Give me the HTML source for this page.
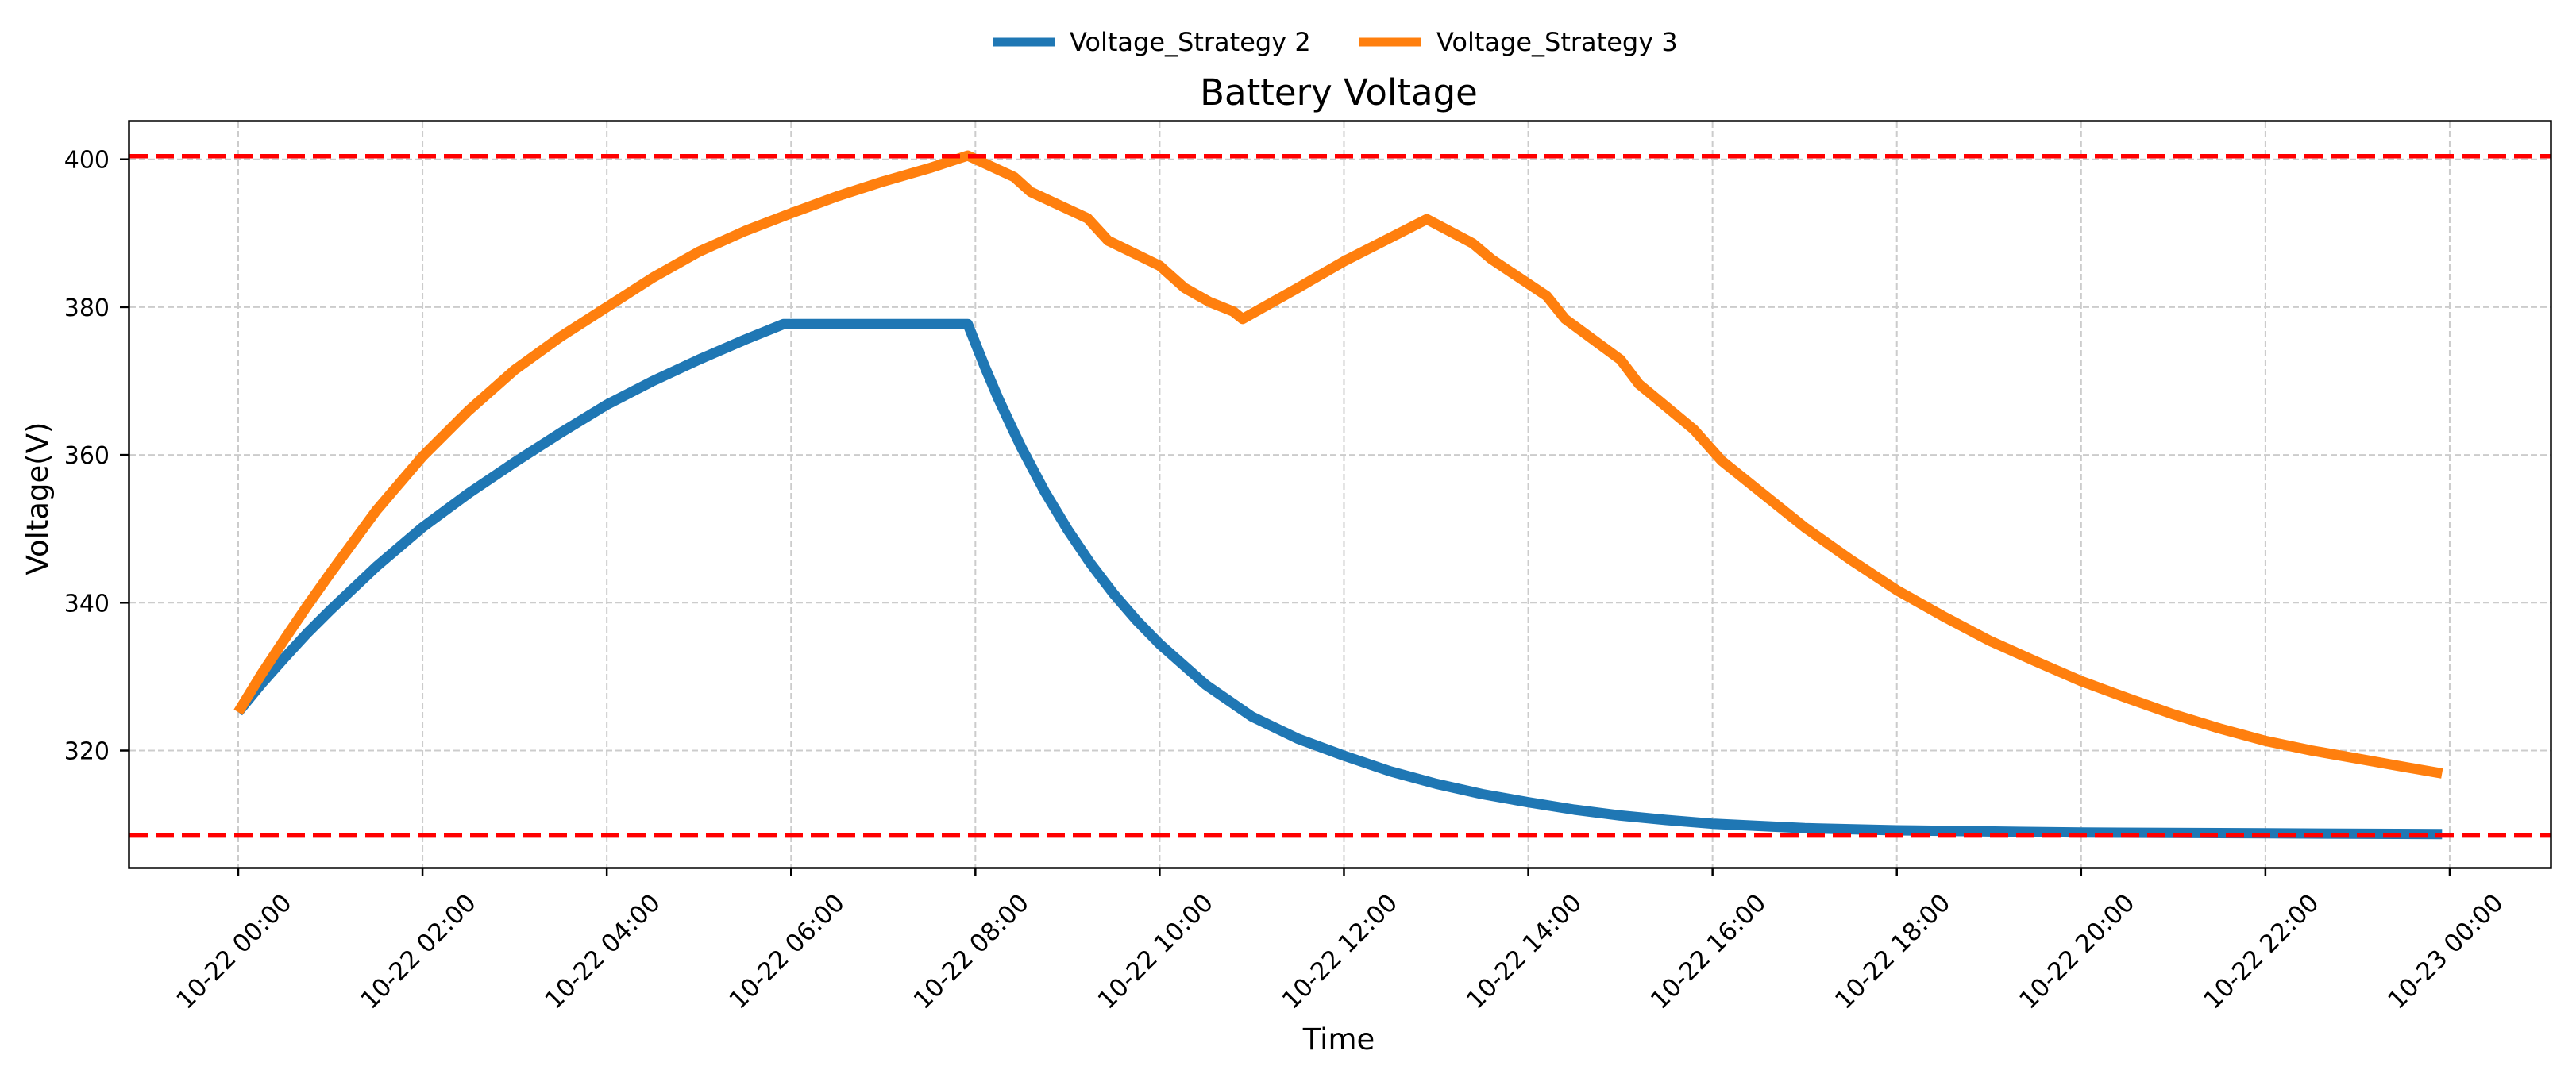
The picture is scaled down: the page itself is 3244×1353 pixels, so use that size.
<!DOCTYPE html>
<html><head><meta charset="utf-8"><style>
html,body{margin:0;padding:0;background:#fff;}
svg{display:block;font-family:"DejaVu Sans","Liberation Sans",sans-serif;}
</style></head><body>
<svg id="chart" width="3244" height="1353" viewBox="0 0 3244 1353" xmlns="http://www.w3.org/2000/svg">
<rect width="3244" height="1353" fill="#fff"/>
<g id="grid"></g>
<g id="series"></g>
<g id="refs"></g>
<rect x="162.5" y="152.5" width="3050" height="941" fill="none" stroke="#000" stroke-width="2.5"/>
<g id="axes"></g>
<text x="1686" y="132" font-size="45" text-anchor="middle" fill="#000">Battery Voltage</text>
<text x="1686" y="1322" font-size="37" text-anchor="middle" fill="#000">Time</text>
<text x="0" y="0" font-size="37" text-anchor="middle" fill="#000" transform="translate(60,628) rotate(-90)">Voltage(V)</text>
<g>
<g>
<line x1="1250" y1="53" x2="1328" y2="53" stroke="#1f77b4" stroke-width="11"/>
<text x="1347" y="64" font-size="32" fill="#000">Voltage_Strategy 2</text></g>
<g>
<line x1="1712" y1="53" x2="1789" y2="53" stroke="#ff7f0e" stroke-width="11"/>
<text x="1809" y="64" font-size="32" fill="#000">Voltage_Strategy 3</text></g>
</g>
</svg>
<script>
const xTickHours = [0,2,4,6,8,10,12,14,16,18,20,22,24];
const xTickLabels = ["10-22 00:00","10-22 02:00","10-22 04:00","10-22 06:00","10-22 08:00","10-22 10:00","10-22 12:00","10-22 14:00","10-22 16:00","10-22 18:00","10-22 20:00","10-22 22:00","10-23 00:00"];
const yTicks = [320,340,360,380,400];
const refLevels = [400.43, 308.5];
const s2Hours = [0,0.25,0.5,0.75,1,1.5,2,2.5,3,3.5,4,4.5,5,5.5,5.917,6.5,7,7.5,7.917,8.1,8.25,8.4,8.5,8.75,9,9.25,9.5,9.75,10,10.5,11,11.5,12,12.5,13,13.5,14,14.5,15,15.5,16,17,18,20,22,23.917];
const s2Values = [325.2,329,332.5,335.9,339,344.9,350.2,354.8,359,363,366.8,370,372.9,375.6,377.7,377.7,377.7,377.7,377.7,372,367.6,363.6,361,355.1,349.9,345.3,341.2,337.6,334.4,328.9,324.6,321.6,319.3,317.2,315.5,314.1,313,312,311.2,310.6,310.1,309.5,309.2,308.9,308.8,308.7];
const s3Hours = [0,0.25,0.5,0.75,1,1.5,2,2.5,3,3.5,4,4.5,5,5.5,6,6.5,7,7.5,7.917,8.42,8.6,9.22,9.44,10,10.27,10.54,10.8,10.9,11.5,12,12.9,13.4,13.6,14.2,14.4,15,15.2,15.8,16.1,16.5,17,17.5,18,18.5,19,19.5,20,20.5,21,21.5,22,22.5,23,23.5,23.917];
const s3Values = [325.2,330.3,335,339.6,344,352.5,359.8,366,371.5,376,380,384,387.5,390.3,392.7,395,397,398.8,400.5,397.6,395.6,392,389,385.6,382.6,380.7,379.4,378.4,382.6,386.2,391.9,388.6,386.5,381.5,378.4,372.9,369.6,363.4,359.2,355.2,350.2,345.8,341.7,338.2,334.9,332.1,329.4,327.1,324.9,323,321.3,320,318.9,317.8,316.9];

const NS = "http://www.w3.org/2000/svg";
function X(h){ return 300 + h*116.04; }
function Y(v){ return 200.7 + (400 - v)*9.31; }
function mk(tag, attrs, parent){ const e=document.createElementNS(NS,tag); for(const k in attrs) e.setAttribute(k,attrs[k]); parent.appendChild(e); return e; }
const grid=document.getElementById('grid'), axes=document.getElementById('axes'), refs=document.getElementById('refs'), series=document.getElementById('series');

xTickHours.forEach((h,i)=>{
  const x=X(h);
  const g=mk('line',{x1:x,y1:153,x2:x,y2:1093,stroke:'#cccccc','stroke-width':2,'stroke-dasharray':'8,4'},grid);
  
  
  const t=mk('line',{x1:x,y1:1094,x2:x,y2:1104,stroke:'#000','stroke-width':2.5},axes);
  
  
  const lb=mk('text',{x:0,y:0,'font-size':31,'text-anchor':'middle','dominant-baseline':'central',fill:'#000',transform:`translate(${x-5},${1199}) rotate(-45)`},axes);
  lb.textContent=xTickLabels[i];
  
  
});
yTicks.forEach(v=>{
  const y=Y(v);
  const g=mk('line',{x1:163,y1:y,x2:3212,y2:y,stroke:'#cccccc','stroke-width':2,'stroke-dasharray':'8,4'},grid);
  
  
  const t=mk('line',{x1:151,y1:y,x2:162,y2:y,stroke:'#000','stroke-width':2.5},axes);
  
  
  const lb=mk('text',{x:138,y:y+11,'font-size':30,'text-anchor':'end',fill:'#000'},axes);
  lb.textContent=String(v);
  
  
});
function drawLine(hours, vals, color, name){
  const pts=hours.map((h,i)=>X(h).toFixed(1)+','+Y(vals[i]).toFixed(1)).join(' ');
  const p=mk('polyline',{points:pts,fill:'none',stroke:color,'stroke-width':13,'stroke-linejoin':'round','stroke-linecap':'butt'},series);
  
  
}
drawLine(s2Hours,s2Values,'#1f77b4','voltage-strategy-2-line');
drawLine(s3Hours,s3Values,'#ff7f0e','voltage-strategy-3-line');
refLevels.forEach((v,i)=>{
  const l=mk('line',{x1:163,y1:Y(v),x2:3212,y2:Y(v),stroke:'#ff0000','stroke-width':5.5,'stroke-dasharray':'23,10'},refs);
  
  
});
</script>
</body></html>
